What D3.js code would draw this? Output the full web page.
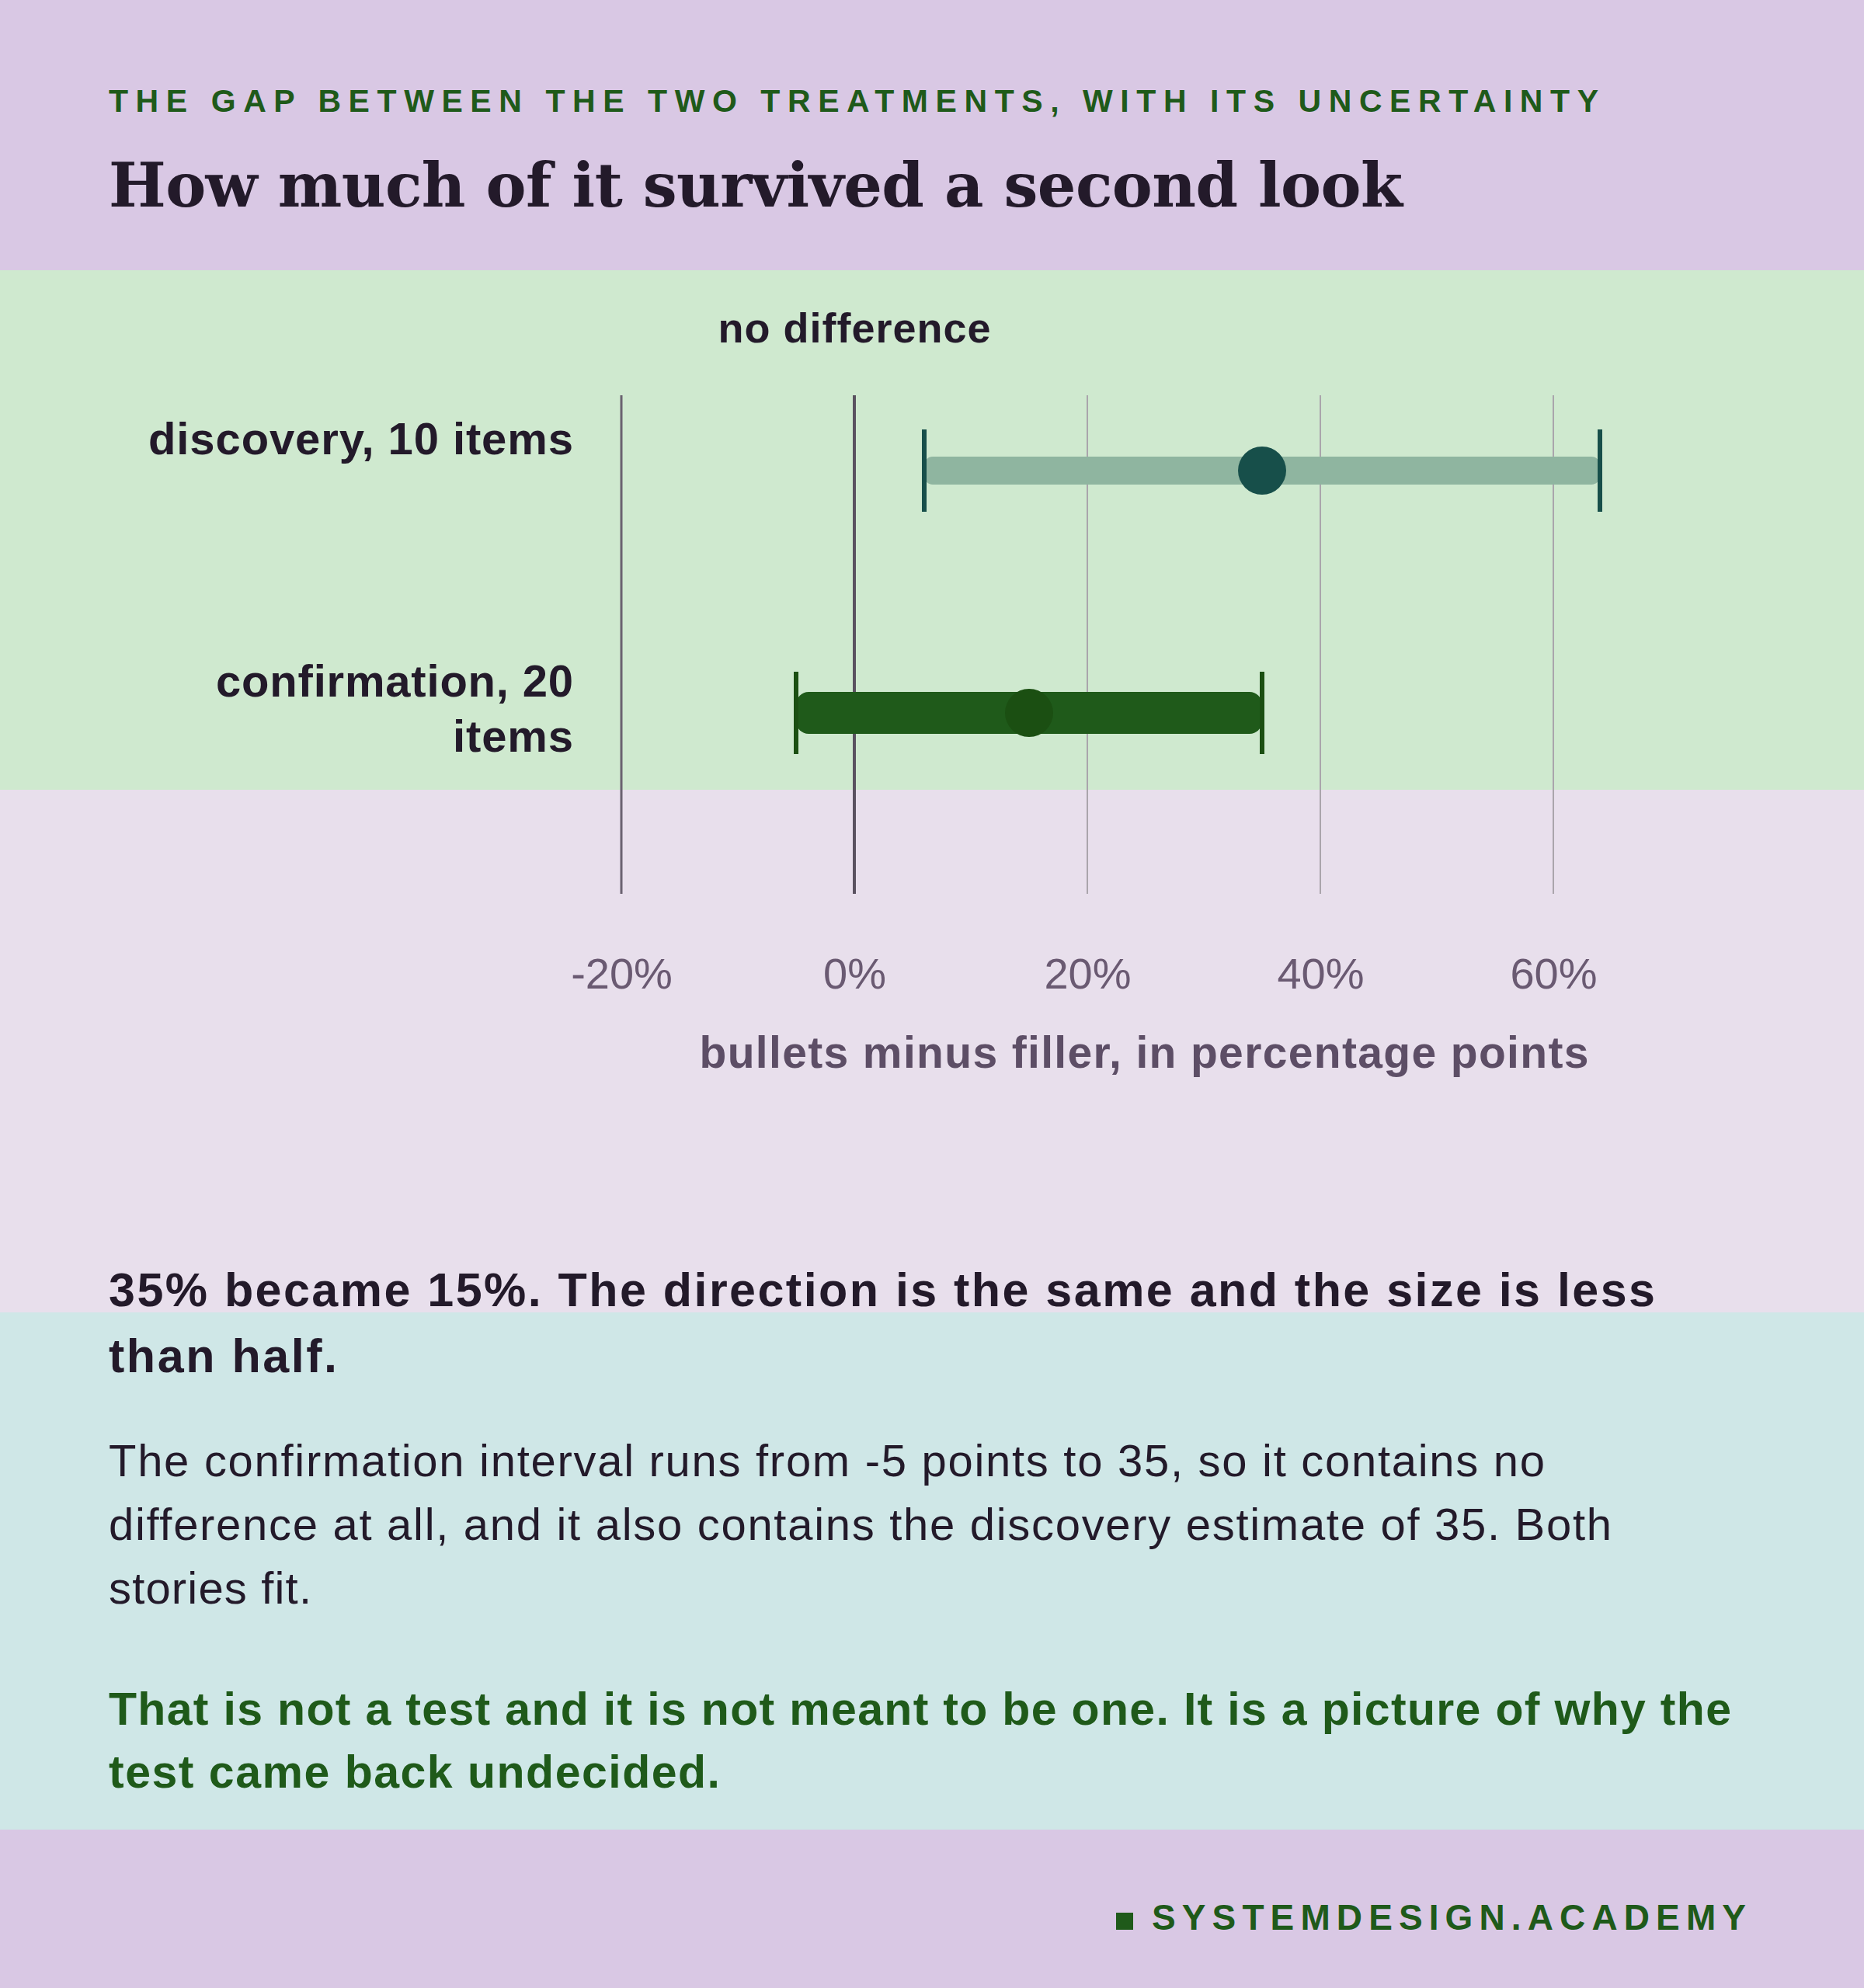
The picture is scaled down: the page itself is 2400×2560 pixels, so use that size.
<!DOCTYPE html><html><head><meta charset="utf-8">
<script src="https://cdn.jsdelivr.net/npm/d3@7"></script>
<style>body{margin:0;background:#d9c8e4}svg{display:block}</style></head><body>
<script>
const categories=["discovery, 10 items","confirmation, 20 items"];
const labelLines=[["discovery, 10 items"],["confirmation, 20","items"]];
const estimates=[35,15];
const lows=[6,-5];
const highs=[64,35];
const tickValues=[-20,0,20,40,60];
const tickLabels=["-20%","0%","20%","40%","60%"];

const W=2400,H=2560;
const svg=d3.select("body").append("svg").attr("width",W).attr("height",H);
const F="'Liberation Sans',Arial,sans-serif";
const bands=[[0,348,"#d9c8e4"],[348,1017,"#cfe9cf"],[1017,1690,"#e8dfec"],[1690,2356,"#cfe7e7"],[2356,2560,"#d9c8e4"]];
bands.forEach(b=>svg.append("rect").attr("x",0).attr("y",b[0]).attr("width",W).attr("height",b[1]-b[0]).attr("fill",b[2]));

function txt(xp,yp,s,size,weight,col,len,anchor,fam){
  const t=svg.append("text").attr("x",xp).attr("y",yp).attr("font-family",fam||F).attr("font-weight",weight).attr("font-size",size).attr("fill",col).attr("text-anchor",anchor||"start").text(s);
  if(len) t.attr("textLength",len).attr("lengthAdjust","spacing");
  return t;
}
txt(140,144,"THE GAP BETWEEN THE TWO TREATMENTS, WITH ITS UNCERTAINTY",41,700,"#1f5a1a",1918);
txt(140,266,"How much of it survived a second look",78,700,"#231a2a",1666,"start","'DejaVu Serif',serif");

const x=d3.scaleLinear().domain([-20,60]).range([800,2000]);
const y=d3.scalePoint().domain(categories).range([606,918]);

tickValues.forEach(v=>svg.append("line").attr("x1",x(v)).attr("x2",x(v)).attr("y1",509).attr("y2",1151)
  .attr("stroke",v===0?"#5a5260":(v===-20?"#6a6270":"#aaa5ac")).attr("stroke-width",v===0?4:(v===-20?3:2)));
const ax=svg.append("g").attr("transform","translate(0,1151)").call(d3.axisBottom(x).tickValues(tickValues).tickFormat((d,i)=>tickLabels[i]).tickSize(0).tickPadding(82));
ax.select(".domain").remove();
ax.selectAll("text").attr("font-family",F).attr("font-size",56).attr("fill","#6a5a72");

txt(x(0),441,"no difference",54,700,"#231a2a",351,"middle");
txt(1473,1375,"bullets minus filler, in percentage points",57,700,"#5d4e66",1145,"middle");

const barCol=["#8fb5a0","#1f5a1a"],thick=[36,54],capCol=["#174f4a","#1b4f12"],dotCol=["#174f4a","#1b4f12"];
const lens=[[547],[460,155]];
categories.forEach((c,i)=>{
  const cy=y(c);
  svg.append("rect").attr("x",x(lows[i])).attr("y",cy-thick[i]/2).attr("width",x(highs[i])-x(lows[i])).attr("height",thick[i]).attr("rx",thick[i]/2*0.6).attr("fill",barCol[i]);
  [lows[i],highs[i]].forEach(v=>svg.append("line").attr("x1",x(v)).attr("x2",x(v)).attr("y1",cy-53).attr("y2",cy+53).attr("stroke",capCol[i]).attr("stroke-width",6));
  svg.append("circle").attr("cx",x(estimates[i])).attr("cy",cy).attr("r",31).attr("fill",dotCol[i]);
  const base=i===0?585:897;
  labelLines[i].forEach((l,j)=>txt(738,base+j*71,l,58,700,"#231a2a",lens[i][j],"end"));
});

function para(lines,lensArr,y0,dy,size,weight,col){
  lines.forEach((l,j)=>txt(140,y0+j*dy,l,size,weight,col,lensArr[j]));
}
para(["35% became 15%. The direction is the same and the size is less","than half."],[1991,294],1682,85,61,700,"#231a2a");
para(["The confirmation interval runs from -5 points to 35, so it contains no","difference at all, and it also contains the discovery estimate of 35. Both","stories fit."],[1849,1935,261],1901,82,58,400,"#231a2a");
para(["That is not a test and it is not meant to be one. It is a picture of why the","test came back undecided."],[2089,787],2221,81,59,700,"#1f5a1a");

svg.append("rect").attr("x",1437).attr("y",2463).attr("width",22).attr("height",22).attr("fill","#1f5a1a");
txt(1483,2485,"SYSTEMDESIGN.ACADEMY",46,700,"#1f5a1a",771).attr("letter-spacing",6);
</script></body></html>
